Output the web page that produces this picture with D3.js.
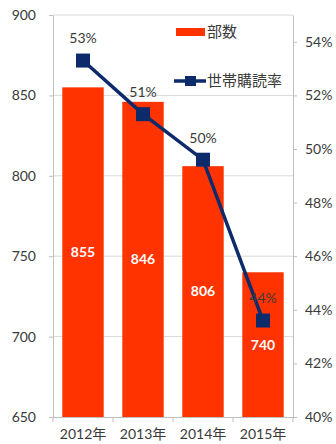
<!DOCTYPE html>
<html>
<head>
<meta charset="utf-8">
<script src="https://cdn.jsdelivr.net/npm/d3@7"></script>
<style>
  html, body { margin: 0; padding: 0; background: #fff; }
  svg { display: block; font-family: Lato, "Noto Sans CJK JP", sans-serif; }
</style>
</head>
<body>
<svg id="chart" width="336" height="444"></svg>
<script>
// Circulation (10k copies) and household subscription rate by year
const years = ["2012年", "2013年", "2014年", "2015年"];
const copies = [855, 846, 806, 740];
const householdRate = [0.533, 0.513, 0.496, 0.436];
const leftTicks = [650, 700, 750, 800, 850, 900];
const rightTicks = [0.40, 0.42, 0.44, 0.46, 0.48, 0.50, 0.52, 0.54];
const legendLabels = ["部数", "世帯購読率"];

const barColor = "#ff3300";
const lineColor = "#0d2a6b";
const gridColor = "#d9d9d9";
const textColor = "#3a3a3a";

const svg = d3.select("#chart");
const plotLeft = 53, plotRight = 293, plotTop = 15, plotBottom = 417;

const x = d3.scaleBand().domain(years).range([plotLeft, plotRight]).paddingInner(0.31).paddingOuter(0.155);
const yL = d3.scaleLinear().domain([650, 900]).range([plotBottom, plotTop]);
const yR = d3.scaleLinear().domain([0.40, 0.55]).range([plotBottom, plotTop]);
const cx = d => x(d) + x.bandwidth() / 2;

// gridlines
svg.append("g").selectAll("line").data(leftTicks.slice(1)).join("line")
  .attr("x1", plotLeft).attr("x2", plotRight)
  .attr("y1", d => yL(d)).attr("y2", d => yL(d))
  .attr("stroke", gridColor).attr("stroke-width", 1);

// bars
svg.append("g").selectAll("rect").data(copies).join("rect")
  .attr("x", (d, i) => x(years[i]))
  .attr("y", d => yL(d))
  .attr("width", x.bandwidth())
  .attr("height", d => plotBottom - yL(d))
  .attr("fill", barColor);

// bar value labels
svg.append("g").selectAll("text").data(copies).join("text")
  .attr("x", (d, i) => cx(years[i]))
  .attr("y", d => (yL(d) + plotBottom) / 2)
  .attr("dy", "0.35em")
  .attr("text-anchor", "middle")
  .attr("fill", "#fff")
  .attr("font-weight", "bold")
  .attr("font-size", 14)
  .text(d => d);

// axes
const axisStyle = g => {
  g.select(".domain").attr("stroke", "#bfbfbf");
  g.selectAll(".tick line").attr("stroke", "#bfbfbf");
  g.selectAll(".tick text").attr("fill", textColor).attr("font-size", 14)
    .attr("font-family", 'Lato, "Noto Sans CJK JP", sans-serif');
};

svg.append("g").attr("transform", `translate(${plotLeft},0)`)
  .call(d3.axisLeft(yL).tickValues(leftTicks).tickSize(4).tickSizeOuter(0).tickPadding(13))
  .call(axisStyle);

svg.append("g").attr("transform", `translate(${plotRight},0)`)
  .call(d3.axisRight(yR).tickValues(rightTicks).tickFormat(d3.format(".0%")).tickSize(4).tickSizeOuter(0).tickPadding(8))
  .call(axisStyle);

const xAxis = svg.append("g").attr("transform", `translate(0,${plotBottom})`)
  .call(d3.axisBottom(x).tickSize(0).tickPadding(12))
  .call(axisStyle);
xAxis.select(".domain").attr("d", `M${plotLeft},0.5H${plotRight}`);
// category separator ticks
xAxis.append("g").selectAll("line").data(d3.range(years.length + 1)).join("line")
  .attr("x1", i => plotLeft + i * x.step())
  .attr("x2", i => plotLeft + i * x.step())
  .attr("y1", 0).attr("y2", 5)
  .attr("stroke", "#bfbfbf");

// subscription-rate line
const line = d3.line().x((d, i) => cx(years[i])).y(d => yR(d));
svg.append("path").datum(householdRate)
  .attr("d", line).attr("fill", "none")
  .attr("stroke", lineColor).attr("stroke-width", 3.5);

svg.append("g").selectAll("rect").data(householdRate).join("rect")
  .attr("x", (d, i) => cx(years[i]) - 7)
  .attr("y", d => yR(d) - 7)
  .attr("width", 14).attr("height", 14)
  .attr("fill", lineColor);

svg.append("g").selectAll("text").data(householdRate).join("text")
  .attr("x", (d, i) => cx(years[i]))
  .attr("y", d => yR(d) - 22)
  .attr("dy", "0.35em")
  .attr("text-anchor", "middle")
  .attr("fill", textColor)
  .attr("font-size", 14)
  .text(d => d3.format(".0%")(d));

// legend
const lg = svg.append("g");
lg.append("rect").attr("x", 176).attr("y", 28).attr("width", 29).attr("height", 8).attr("fill", barColor);
lg.append("text").attr("x", 207).attr("y", 32).attr("dy", "0.35em")
  .attr("font-size", 15).attr("fill", textColor).text(legendLabels[0]);
lg.append("line").attr("x1", 174).attr("x2", 206).attr("y1", 81).attr("y2", 81)
  .attr("stroke", lineColor).attr("stroke-width", 3.5);
lg.append("rect").attr("x", 185).attr("y", 76).attr("width", 11).attr("height", 10).attr("fill", lineColor);
lg.append("text").attr("x", 207).attr("y", 81).attr("dy", "0.35em")
  .attr("font-size", 15).attr("fill", textColor).text(legendLabels[1]);
</script>
</body>
</html>
